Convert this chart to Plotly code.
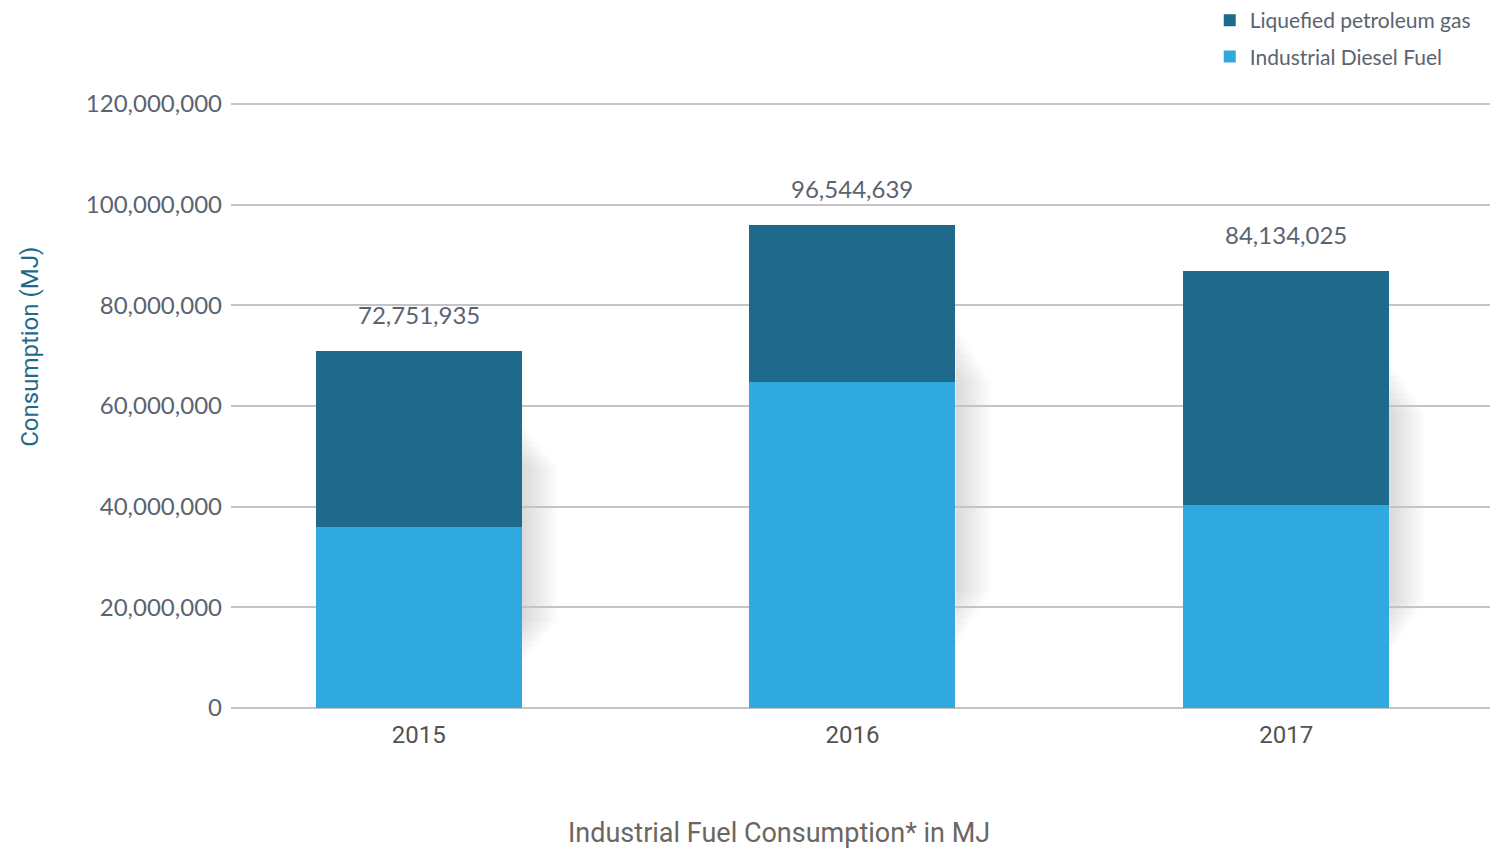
import plotly.graph_objects as go

years = ["2015", "2016", "2017"]
diesel = [36.0e6, 64.8e6, 40.3e6]
lpg = [34.9e6, 31.2e6, 46.5e6]
total_labels = ["72,751,935", "96,544,639", "84,134,025"]
ytick_vals = [0, 20e6, 40e6, 60e6, 80e6, 100e6, 120e6]
ytick_text = ["0", "20,000,000", "40,000,000", "60,000,000", "80,000,000", "100,000,000", "120,000,000"]

C_LPG = "#1f6a8a"
C_DIESEL = "#30aade"
TICK = "#5a6470"
SANS = "Lato, Open Sans, sans-serif"
NARROW = "Roboto, Liberation Sans Narrow, sans-serif"
BAR_W = 0.475

fig = go.Figure()
fig.add_trace(go.Bar(x=years, y=diesel, name="Industrial Diesel Fuel", legendrank=2, legendgroup="d",
                     marker=dict(color=C_DIESEL, line=dict(width=0)), width=BAR_W))
fig.add_trace(go.Bar(x=years, y=lpg, name="Liquefied petroleum gas", legendrank=1, legendgroup="l",
                     marker=dict(color=C_LPG, line=dict(width=0)), width=BAR_W))

# soft drop shadow to the right of each bar
steps = 9
for i, (d, l) in enumerate(zip(diesel, lpg)):
    tot = d + l
    for k in range(1, steps + 1):
        f = k / steps
        fig.add_shape(type="rect", xref="x", yref="y", layer="below",
                      x0=i + BAR_W / 2, x1=i + BAR_W / 2 + 0.009 * k,
                      y0=tot * (0.12 + 0.12 * f), y1=tot * (0.80 - 0.12 * f),
                      line=dict(width=0), fillcolor="rgba(60,60,75,0.02)")

for i, (d, l, t) in enumerate(zip(diesel, lpg, total_labels)):
    fig.add_annotation(x=i, y=d + l, xref="x", yref="y", text=t, showarrow=False,
                       yanchor="bottom", yshift=20,
                       font=dict(family=SANS, size=24, color=TICK))

fig.add_annotation(text="Industrial Fuel Consumption* in MJ", xref="paper", yref="paper",
                   x=0.435, y=-0.205, xanchor="center", yanchor="middle", showarrow=False,
                   font=dict(family=NARROW, size=27, color="#6b6661"))
fig.add_annotation(text="Consumption (MJ)", xref="paper", yref="paper", textangle=-90,
                   x=-0.1597, y=0.593, xanchor="center", yanchor="middle", showarrow=False,
                   font=dict(family=NARROW, size=24, color=C_LPG))

fig.update_layout(
    barmode="stack",
    width=1494, height=856,
    margin=dict(l=231, r=4, t=99, b=148, autoexpand=False),
    plot_bgcolor="white", paper_bgcolor="white",
    showlegend=True,
    legend=dict(x=0.7774, xanchor="left", y=1.1626, yref="paper", yanchor="top",
                traceorder="grouped", font=dict(family=SANS, size=21, color=TICK),
                itemwidth=30, tracegroupgap=6, bgcolor="rgba(0,0,0,0)"),
)
fig.update_yaxes(range=[0, 121e6], tickvals=ytick_vals, ticktext=ytick_text,
                 automargin=False,
                 showgrid=True, gridcolor="#c4c4c6", gridwidth=2,
                 zeroline=True, zerolinecolor="#c4c4c6", zerolinewidth=2,
                 ticks="", ticklabelstandoff=8,
                 tickfont=dict(family=SANS, size=24, color=TICK))
fig.update_xaxes(range=[-0.433, 2.47], showgrid=False, ticks="", showline=False,
                 automargin=False, ticklabelstandoff=10,
                 tickfont=dict(family=NARROW, size=24, color="#55524f"))

fig.write_html("out.html", config={"displayModeBar": False},
               post_script="document.body.style.margin='0';")
